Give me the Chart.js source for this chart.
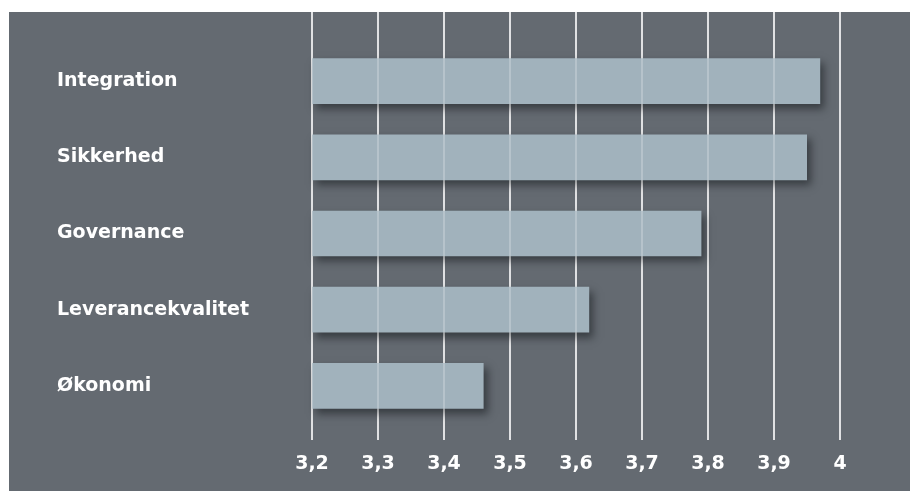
<!DOCTYPE html>
<html>
<head>
<meta charset="utf-8">
<script src="https://cdn.jsdelivr.net/npm/chart.js@4.4.0/dist/chart.umd.min.js"></script>
<style>
  html, body { margin: 0; padding: 0; background: #fff; }
  #wrap { width: 910px; height: 491px; position: relative; }
</style>
</head>
<body>
<div id="wrap"><canvas id="chart"></canvas></div>
<script>
const categories = ['Integration', 'Sikkerhed', 'Governance', 'Leverancekvalitet', 'Økonomi'];
const scores = [3.97, 3.95, 3.79, 3.62, 3.46];
const xTicks = [3.2, 3.3, 3.4, 3.5, 3.6, 3.7, 3.8, 3.9, 4];
const xTickLabels = ['3,2', '3,3', '3,4', '3,5', '3,6', '3,7', '3,8', '3,9', '4'];

const panelColor = '#646a71';
const barColor = '#a1b2bc';

// dark panel behind everything, white strip left/top
const panelBg = {
  id: 'panelBg',
  beforeDraw(chart) {
    const ctx = chart.ctx;
    ctx.save();
    ctx.fillStyle = '#ffffff';
    ctx.fillRect(0, 0, chart.width, chart.height);
    ctx.fillStyle = panelColor;
    ctx.fillRect(9, 12, chart.width - 9, chart.height - 12);
    ctx.restore();
  }
};

// vertical lines from panel top to just above the tick labels
function drawGrid(chart, color) {
  const ctx = chart.ctx;
  const x = chart.scales.x;
  const bottom = chart.chartArea.bottom + 16;
  ctx.save();
  ctx.strokeStyle = color;
  ctx.lineWidth = 1.5;
  x.ticks.forEach((t) => {
    const px = x.getPixelForValue(t.value);
    ctx.beginPath();
    ctx.moveTo(px, 12);
    ctx.lineTo(px, bottom);
    ctx.stroke();
  });
  ctx.restore();
}

const gridLines = {
  id: 'gridLines',
  beforeDatasetsDraw(chart) {
    drawGrid(chart, '#ffffff');
    const ctx = chart.ctx;
    ctx.save();
    ctx.shadowColor = 'rgba(20, 24, 28, 0.55)';
    ctx.shadowBlur = 8;
    ctx.shadowOffsetX = 4;
    ctx.shadowOffsetY = 5;
  },
  afterDatasetsDraw(chart) {
    chart.ctx.restore();
    drawGrid(chart, 'rgba(255, 255, 255, 0.3)');
  }
};

const labelFont = '"DejaVu Sans", sans-serif';

const ctx = document.getElementById('chart').getContext('2d');
new Chart(ctx, {
  type: 'bar',
  data: {
    labels: categories,
    datasets: [{
      data: scores,
      base: 3.2,
      backgroundColor: barColor,
      borderWidth: 0,
      categoryPercentage: 1,
      barPercentage: 0.6,
      clip: false,
    }]
  },
  options: {
    indexAxis: 'y',
    responsive: true,
    maintainAspectRatio: false,
    animation: false,
    layout: {
      padding: { left: 57, right: 70, top: 43, bottom: 0 }
    },
    scales: {
      x: {
        min: 3.2,
        max: 4,
        grid: { display: false },
        border: { display: false },
        afterBuildTicks: (s) => { s.ticks = xTicks.map((v) => ({ value: v })); },
        afterFit: (s) => { s.height = 67; },
        ticks: {
          autoSkip: false,
          maxRotation: 0,
          padding: 21,
          color: '#ffffff',
          font: { family: labelFont, size: 19, weight: 'bold' },
          callback: (v, i) => xTickLabels[i],
        }
      },
      y: {
        grid: { display: false },
        border: { display: false },
        afterFit: (s) => { s.width = 255; },
        ticks: {
          crossAlign: 'far',
          color: '#ffffff',
          font: { family: labelFont, size: 19, weight: 'bold' },
        }
      }
    },
    plugins: {
      legend: { display: false },
      tooltip: { enabled: false },
    }
  },
  plugins: [panelBg, gridLines],
});
</script>
</body>
</html>
